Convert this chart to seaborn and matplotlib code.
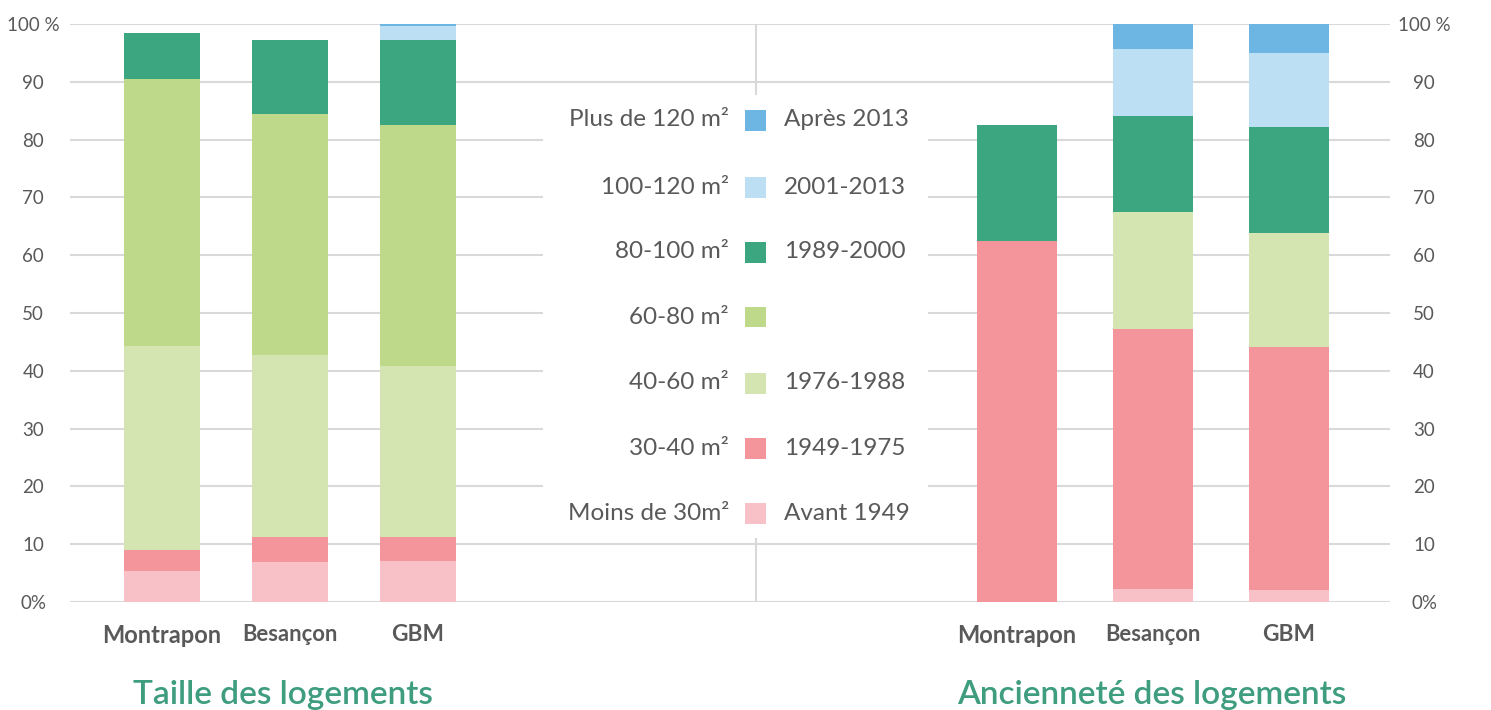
import numpy as np
import pandas as pd
import matplotlib
matplotlib.use("Agg")
import matplotlib.pyplot as plt
from matplotlib.patches import Rectangle
import seaborn as sns

# ---------------- data ----------------
sites = ["Montrapon", "Besançon", "GBM"]

# Taille des logements (% of dwellings)
t_moins30 = [5.4, 6.9, 7.1]
t_30_40 = [3.6, 4.3, 4.1]
t_40_60 = [35.3, 31.5, 29.6]
t_60_80 = [46.2, 41.8, 41.7]
t_80_100 = [8.0, 12.8, 14.8]
t_100_120 = [0.0, 0.0, 2.4]
t_plus120 = [0.0, 0.0, 0.3]
taille_labels = ["Moins de 30m²", "30-40 m²", "40-60 m²", "60-80 m²",
                 "80-100 m²", "100-120 m²", "Plus de 120 m²"]

# Ancienneté des logements (% of dwellings)
a_avant1949 = [0.0, 2.3, 2.0]
a_1949_1975 = [62.5, 44.9, 42.2]
a_1976_1988 = [0.0, 20.3, 19.7]
a_1989_2000 = [20.0, 16.5, 18.2]
a_2001_2013 = [0.0, 11.6, 12.9]
a_apres2013 = [0.0, 4.4, 5.0]
age_labels = ["Avant 1949", "1949-1975", "1976-1988", None,
              "1989-2000", "2001-2013", "Après 2013"]

yticks = list(range(0, 101, 10))
ytick_labels = ["0%"] + [str(v) for v in yticks[1:-1]] + ["100 %"]

# ---------------- style ----------------
colors = ["#F8C1C7", "#F4959B", "#D4E5B1", "#BED98A",
          "#3BA67F", "#BDDFF3", "#6DB6E3"]
age_color_idx = [0, 1, 2, 4, 5, 6]
txt = "#595959"
teal = "#3E9C7F"
grid_c = "#D9D9D9"

sns.set_theme(style="white")
plt.rcParams["font.family"] = ["Lato", "DejaVu Sans"]

W, H = 1491, 710
fig = plt.figure(figsize=(W / 100, H / 100), dpi=100)

def fx(px):
    return px / W

def fy(py):
    return 1 - py / H

y_bot, y_top = 602, 24
ax_b = fy(y_bot)
ax_h = (y_bot - y_top) / H

# background axes for grid
bg = fig.add_axes([fx(70), ax_b, fx(1390 - 70), ax_h])
bg.set_xlim(0, 1)
bg.set_ylim(0, 100)
bg.set_yticks(yticks)
bg.set_yticklabels(ytick_labels)
bg.set_xticks([])
for s in bg.spines.values():
    s.set_visible(False)
for v in yticks:
    bg.axhline(v, color=grid_c, lw=1.5, zorder=0)
bg.axvline((756 - 70) / 1320, color=grid_c, lw=1.5, zorder=0)
bg.tick_params(axis="y", length=0, pad=26.5, labelsize=13.5, labelcolor=txt)
for lab in bg.get_yticklabels():
    lab.set_horizontalalignment("center")
bg2 = bg.twinx()
bg2.set_ylim(0, 100)
bg2.set_yticks(yticks)
bg2.set_yticklabels(ytick_labels)
for s in bg2.spines.values():
    s.set_visible(False)
bg2.tick_params(axis="y", length=0, pad=24.5, labelsize=13.5, labelcolor=txt)
for lab in bg2.get_yticklabels():
    lab.set_horizontalalignment("center")

# white legend box covering the middle grid
fig.patches.append(Rectangle((fx(543), fy(538)), fx(928 - 543), (538 - 95) / H,
                             transform=fig.transFigure, facecolor="white",
                             edgecolor="none", zorder=2))


def stacked(ax, layers, color_list):
    df = pd.DataFrame({"site": sites})
    cum = np.cumsum(np.array(layers, dtype=float), axis=0)
    for i in range(len(layers) - 1, -1, -1):
        df["v"] = cum[i]
        sns.barplot(data=df, x="site", y="v", order=sites, color=color_list[i],
                    saturation=1, width=0.59, errorbar=None, linewidth=0, ax=ax)
    ax.set_ylim(0, 100)
    ax.set_xlim(-0.5, 2.5)
    ax.patch.set_alpha(0)
    for s in ax.spines.values():
        s.set_visible(False)
    ax.set_yticks([])
    ax.set_xlabel("")
    ax.set_ylabel("")
    ax.tick_params(axis="x", length=0, pad=16, labelcolor=txt)
    labs = ax.get_xticklabels()
    labs[0].set_fontweight("bold"); labs[0].set_fontsize(17)
    labs[1].set_fontweight("bold"); labs[1].set_fontsize(15.8)
    labs[2].set_fontweight("bold"); labs[2].set_fontsize(16.3)


axL = fig.add_axes([fx(98), ax_b, fx(384), ax_h])
stacked(axL, [t_moins30, t_30_40, t_40_60, t_60_80, t_80_100, t_100_120, t_plus120], colors)

axR = fig.add_axes([fx(949), ax_b, fx(408), ax_h])
stacked(axR, [a_avant1949, a_1949_1975, a_1976_1988, a_1989_2000, a_2001_2013, a_apres2013],
        [colors[i] for i in age_color_idx])

# legend (drawn by hand: two label columns around one column of swatches)
row_y = [513, 448, 383, 317, 252, 187, 120]
for i in range(7):
    y = row_y[i]
    fig.text(fx(729), fy(y), taille_labels[i], ha="right", va="center",
             fontsize=17.5, color=txt, zorder=5)
    fig.patches.append(Rectangle((fx(745), fy(y + 10.5)), fx(21), 21 / H,
                                 transform=fig.transFigure, facecolor=colors[i],
                                 edgecolor="none", zorder=5))
    if age_labels[i]:
        fig.text(fx(784), fy(y), age_labels[i], ha="left", va="center",
                 fontsize=17.5, color=txt, zorder=5)

# titles
fig.text(fx(283), fy(704), "Taille des logements", ha="center", va="baseline",
         fontsize=24, color=teal, fontweight="semibold")
fig.text(fx(1152), fy(704), "Ancienneté des logements", ha="center", va="baseline",
         fontsize=24, color=teal, fontweight="semibold")

fig.savefig("out.png", dpi=100, facecolor="white")
